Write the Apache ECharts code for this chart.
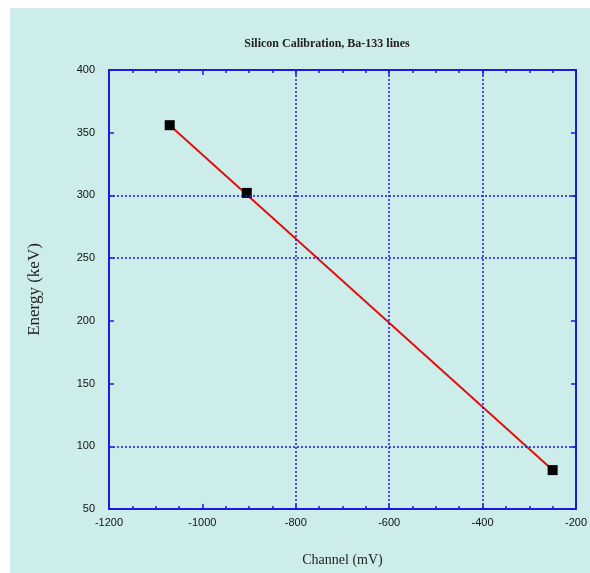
<!DOCTYPE html>
<html>
<head>
<meta charset="UTF-8">
<script src="https://cdn.jsdelivr.net/npm/echarts@6/dist/echarts.min.js"></script>
<style>
  html, body { margin: 0; padding: 0; background: #ffffff; }
  #wrap { position: absolute; left: 10px; top: 8px; width: 580px; height: 565px; background: #cdedea; }
  #chart { position: absolute; left: -10px; top: -8px; width: 590px; height: 573px; }
</style>
</head>
<body>
<div id="wrap"><div id="chart"></div></div>
<script>
// calibration points (channel in mV, energy in keV)
var channels = [-1070, -905, -250];
var energies = [356, 302, 81];
// fitted line end points
var fitChannels = [-1070, -250];
var fitEnergies = [356, 81];
// dotted guide lines
var hGuides = [100, 250, 300];
var vGuides = [-800, -600, -400];

var blue = '#1a1ae0';
var chart = echarts.init(document.getElementById('chart'));

var guideData = [];
hGuides.forEach(function (v) { guideData.push({ yAxis: v }); });
vGuides.forEach(function (v) { guideData.push({ xAxis: v }); });

var axisBase = {
  type: 'value',
  axisLine: { show: true, onZero: false, lineStyle: { color: blue, width: 2 } },
  splitLine: { show: false }
};

chart.setOption({
  backgroundColor: 'transparent',
  animation: false,
  title: {
    text: 'Silicon Calibration, Ba-133 lines',
    left: 322, top: 33, textAlign: 'center',
    textStyle: { fontFamily: 'Liberation Serif', fontWeight: 'bold', fontSize: 12, color: '#222' }
  },
  grid: { left: 109, right: 14, top: 70, bottom: 64 },
  xAxis: [
    Object.assign({}, axisBase, {
      min: -1200, max: -200, interval: 200,
      name: 'Channel (mV)', nameLocation: 'middle', nameGap: 44,
      nameTextStyle: { fontFamily: 'Liberation Serif', fontSize: 14, color: '#222' },
      axisTick: { inside: true, length: 5, lineStyle: { color: blue, width: 1.5 } },
      minorTick: { show: true, splitNumber: 4, length: 3, lineStyle: { color: blue, width: 1.5 } },
      axisLabel: { margin: 8, fontFamily: 'Liberation Sans', fontSize: 11, color: '#111', showMaxLabel: true,
        formatter: function (v) { return String(v); } }
    }),
    Object.assign({}, axisBase, {
      position: 'top', min: -1200, max: -200, interval: 200,
      axisTick: { inside: true, length: 5, lineStyle: { color: blue, width: 1.5 } },
      minorTick: { show: true, splitNumber: 4, length: 3, lineStyle: { color: blue, width: 1.5 } },
      axisLabel: { show: false }
    })
  ],
  yAxis: [
    Object.assign({}, axisBase, {
      min: 50, max: 400, interval: 50,
      name: 'Energy (keV)', nameLocation: 'middle', nameGap: 66,
      nameTextStyle: { fontFamily: 'Liberation Serif', fontSize: 17, color: '#222' },
      axisTick: { inside: true, length: 5, lineStyle: { color: blue, width: 1.5 } },
      axisLabel: { margin: 14, fontFamily: 'Liberation Sans', fontSize: 11, color: '#111' }
    }),
    Object.assign({}, axisBase, {
      position: 'right', min: 50, max: 400, interval: 50,
      axisTick: { inside: true, length: 5, lineStyle: { color: blue, width: 1.5 } },
      axisLabel: { show: false }
    })
  ],
  series: [
    {
      type: 'line',
      data: fitChannels.map(function (c, i) { return [c, fitEnergies[i]]; }),
      showSymbol: false,
      lineStyle: { color: '#e01010', width: 2 },
      z: 3,
      markLine: {
        silent: true,
        symbol: 'none',
        label: { show: false },
        lineStyle: { color: blue, type: [2, 2], width: 1.5 },
        data: guideData
      }
    },
    {
      type: 'scatter',
      data: channels.map(function (c, i) { return [c, energies[i]]; }),
      symbol: 'rect',
      symbolSize: 10,
      itemStyle: { color: '#000', opacity: 1 },
      z: 4
    }
  ]
});
</script>
</body>
</html>
